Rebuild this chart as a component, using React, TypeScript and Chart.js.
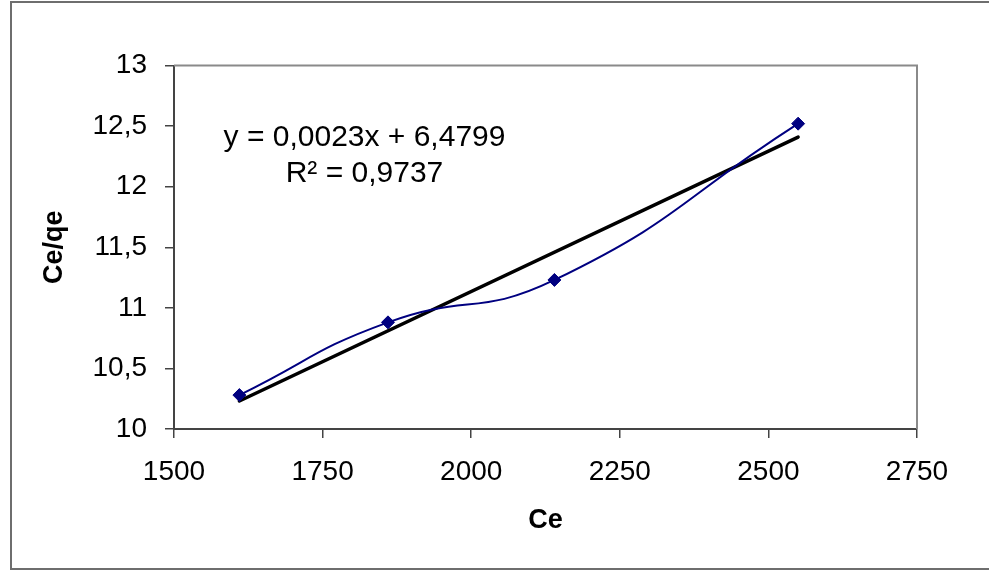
import React, { useEffect, useRef } from "react";
import { Chart, registerables } from "chart.js";

Chart.register(...registerables);

const ceValues: number[] = [1610, 1860, 2140, 2550];
const ceQeValues: number[] = [10.28, 10.88, 11.23, 12.52];
const equationLines: string[] = ["y = 0,0023x + 6,4799", "R\u00B2 = 0,9737"];
const xTitle = "Ce";
const yTitle = "Ce/qe";
const xMin = 1500, xMax = 2750, xStep = 250;
const yMin = 10, yMax = 13, yStep = 0.5;

function regression(xs: number[], ys: number[]) {
  const n = xs.length;
  const mx = xs.reduce((a, b) => a + b, 0) / n;
  const my = ys.reduce((a, b) => a + b, 0) / n;
  let sxy = 0, sxx = 0;
  for (let i = 0; i < n; i++) {
    sxy += (xs[i] - mx) * (ys[i] - my);
    sxx += (xs[i] - mx) * (xs[i] - mx);
  }
  const slope = sxy / sxx;
  return { slope, intercept: my - slope * mx };
}

const FONT = "'Liberation Sans', Arial, sans-serif";

export default function App() {
  const ref = useRef<HTMLCanvasElement | null>(null);

  useEffect(() => {
    if (!ref.current) return;
    const { slope, intercept } = regression(ceValues, ceQeValues);
    const x0 = Math.min(...ceValues);
    const x1 = Math.max(...ceValues);
    const trend = [
      { x: x0, y: slope * x0 + intercept },
      { x: x1, y: slope * x1 + intercept },
    ];
    const points = ceValues.map((x, i) => ({ x, y: ceQeValues[i] }));

    const framePlugin = {
      id: "frame",
      beforeDraw(chart: any) {
        const ctx = chart.ctx;
        ctx.save();
        ctx.strokeStyle = "#6e6e6e";
        ctx.lineWidth = 2;
        ctx.strokeRect(11, 2, 1000, 567);
        ctx.restore();
      },
      beforeDatasetsDraw(chart: any) {
        const { ctx, chartArea } = chart;
        ctx.save();
        ctx.strokeStyle = "#8a8a8a";
        ctx.lineWidth = 2;
        ctx.beginPath();
        ctx.moveTo(chartArea.left, chartArea.top);
        ctx.lineTo(chartArea.right, chartArea.top);
        ctx.lineTo(chartArea.right, chartArea.bottom);
        ctx.stroke();
        ctx.restore();
      },
      afterDatasetsDraw(chart: any) {
        const { ctx, chartArea } = chart;
        ctx.save();
        ctx.fillStyle = "#000";
        ctx.font = `30px ${FONT}`;
        ctx.textAlign = "center";
        ctx.textBaseline = "alphabetic";
        const cx = chartArea.left + 190.5;
        ctx.fillText(equationLines[0], cx, chartArea.top + 80.5);
        ctx.fillText(equationLines[1], cx, chartArea.top + 116.5);
        ctx.restore();
      },
    };

    const chart = new Chart(ref.current, {
      type: "scatter",
      data: {
        datasets: [
          {
            data: points,
            showLine: true,
            borderColor: "#000080",
            backgroundColor: "#000080",
            borderWidth: 2,
            tension: 0.5,
            pointStyle: "rectRot",
            pointRadius: 6.5,
            pointBorderWidth: 1,
            pointBackgroundColor: "#000080",
            pointBorderColor: "#000080",
          },
          {
            data: trend,
            showLine: true,
            borderColor: "#000000",
            borderWidth: 3.5,
            borderCapStyle: "round",
            pointRadius: 0,
          },
        ],
      },
      options: {
        animation: false,
        responsive: true,
        maintainAspectRatio: false,
        layout: { padding: { top: 65.5, right: 72, left: 0, bottom: 0 } },
        plugins: { legend: { display: false }, tooltip: { enabled: false } },
        scales: {
          x: {
            type: "linear",
            min: xMin,
            max: xMax,
            ticks: {
              stepSize: xStep,
              color: "#000",
              font: { family: FONT, size: 28 },
              padding: 17,
              maxRotation: 0,
              callback: (v: any) => String(v),
            },
            grid: {
              drawOnChartArea: false,
              drawTicks: true,
              tickLength: 9,
              color: "#444",
              lineWidth: 1.5,
            },
            border: { display: true, color: "#444", width: 2 },
            title: {
              display: true,
              text: xTitle,
              color: "#000",
              font: { family: FONT, size: 27, weight: "bold" },
              padding: { top: 0, bottom: 34 },
            },
            afterFit: (s: any) => {
              s.height = 142;
            },
          },
          y: {
            type: "linear",
            min: yMin,
            max: yMax,
            ticks: {
              stepSize: yStep,
              color: "#000",
              font: { family: FONT, size: 28 },
              padding: 18,
              callback: (v: any) => String(v).replace(".", ","),
            },
            grid: {
              drawOnChartArea: false,
              drawTicks: true,
              tickLength: 9,
              color: "#444",
              lineWidth: 1.5,
            },
            border: { display: true, color: "#444", width: 2 },
            title: {
              display: true,
              text: yTitle,
              color: "#000",
              font: { family: FONT, size: 27, weight: "bold" },
              padding: { top: 38, bottom: 0 },
            },
            afterFit: (s: any) => {
              s.width = 174;
            },
          },
        },
      },
      plugins: [framePlugin],
    } as any);

    return () => chart.destroy();
  }, []);

  return (
    <div style={{ position: "fixed", left: 0, top: 0, width: 989, height: 571, background: "#fff" }}>
      <canvas ref={ref} />
    </div>
  );
}
